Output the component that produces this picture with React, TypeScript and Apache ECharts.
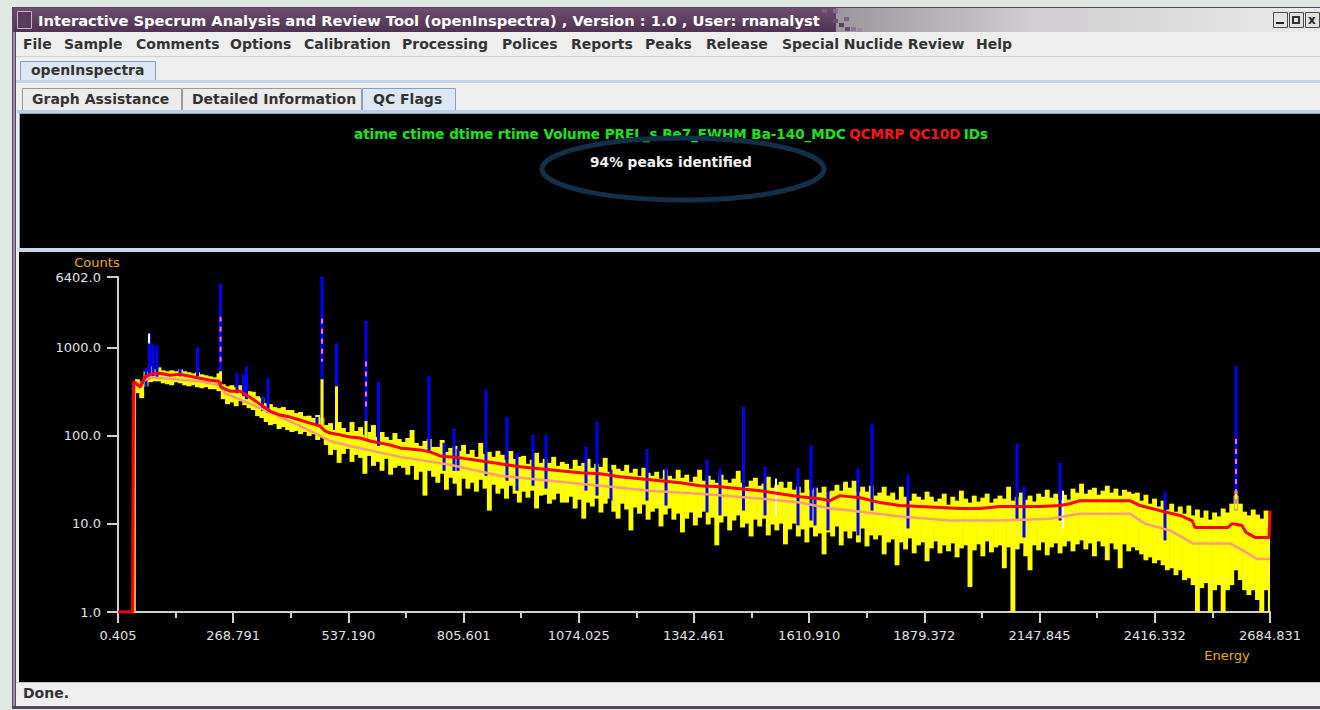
import React, { useEffect, useRef } from "react";
import * as echarts from "echarts";

const FONT = '"DejaVu Sans", "Noto Sans", sans-serif';

// Energy axis labels (keV), from the quadratic energy calibration
const energyTicks = [0.405, 268.791, 537.19, 805.601, 1074.025, 1342.461, 1610.91, 1879.372, 2147.845, 2416.332, 2684.831];
const countTicks = [1, 10, 100, 1000, 6402];

// Spectrum shown as 10 keV channel groups: max / min counts of each group
const groupStart = 40;
const groupWidth = 10;
const groupMax = [
  441, 387, 543, 618, 572, 602, 557, 543, 557, 543, 572, 543, 529, 515, 529, 502, 489, 476, 464, 515,
  387, 367, 377, 358, 377, 367, 323, 318, 283, 270, 236, 230, 213, 207, 213, 197, 197, 182, 187, 168, 170, 160, 173, 160,
  133, 140, 117, 144, 123, 111, 144, 114, 126, 103, 111, 133, 97.4, 111, 97.4, 90.1, 108, 92.5,
  85.5, 94.9, 117, 83.4, 77.1, 87.8, 92.5, 75.1, 75.1, 90.1, 66.0, 73.2, 77.1, 67.7, 79.1, 62.6, 69.5, 57.9, 83.4, 62.6,
  66.0, 57.9, 67.7, 61.0, 53.6, 67.7, 55.0, 57.9, 59.4, 48.3, 53.6, 64.3, 49.5, 55.0, 49.5, 57.9, 45.8, 50.8,
  48.3, 42.4, 53.6, 45.8, 49.5, 55.0, 43.5, 48.3, 44.6, 56.4, 39.2, 47.0, 42.4, 40.2, 47.0, 38.2, 42.4, 35.3, 43.5, 38.2,
  35.3, 39.2, 32.7, 41.3, 35.3, 32.7, 41.3, 33.5, 36.3, 30.2, 34.4, 41.3, 31.0, 35.3, 31.8, 29.4, 36.3, 31.8, 29.4, 32.7,
  40.2, 29.4, 26.5, 31.0, 33.5, 27.2, 28.7, 34.4, 25.8, 27.9, 30.2, 25.8, 30.2, 24.5, 26.5, 22.7, 31.8, 24.5, 25.8, 22.7,
  26.5, 23.3,
  23.9, 27.9, 23.9, 30.2, 25.8, 31.0, 23.3, 26.5, 23.3, 27.2, 21.0, 22.7, 26.5, 21.0, 22.7, 18.9, 26.5, 20.4, 18.4, 22.1,
  20.4, 18.9, 23.3, 20.4, 18.0, 19.4, 22.1, 16.6, 20.4, 18.4, 23.9, 19.4, 17.5, 21.0, 18.0, 19.9, 22.1, 17.5, 19.4, 21.0,
  19.4, 26.5, 18.4, 20.4, 22.7, 18.9, 21.0, 18.0, 22.1, 20.4, 24.5, 19.9, 22.1, 18.9, 21.5, 18.9, 25.2, 22.7, 28.7, 22.1,
  24.5, 25.8, 21.5, 23.9, 27.2, 22.7, 25.2, 21.0, 24.5, 23.3, 22.1,
  22.7, 18.4, 21.5, 17.0, 19.4, 15.8, 18.4, 14.6, 17.0, 13.8, 15.8, 13.1, 16.2, 12.5, 14.6, 11.8, 14.2, 11.2, 13.5, 12.2,
  15.0, 13.5, 17.0, 21.0, 17.0, 13.8, 12.5, 14.6, 12.8, 11.5, 14.2, 12.2,
];
const groupMin = [
  306, 269, 367, 408, 418, 418, 397, 387, 377, 408, 397, 377, 367, 377, 358, 349, 358, 340, 340, 323,
  262, 230, 241, 218, 249, 224, 207, 197, 168, 160, 144, 133, 137, 120, 126, 117, 111, 114, 105, 111, 100, 105, 90.1, 97.4,
  79.1, 61.0, 69.5, 49.5, 62.6, 71.3, 50.8, 61.0, 56.4, 37.2, 59.4, 45.8, 50.8, 40.2, 55.0, 36.3, 43.5, 45.8,
  43.5, 36.3, 45.8, 31.8, 39.2, 21.0, 40.2, 34.4, 29.4, 37.2, 24.5, 33.5, 28.7, 21.0, 32.7, 25.2, 29.4, 23.3, 31.8, 25.2,
  14.2, 27.9, 22.1, 25.2, 19.4, 27.2, 22.1, 17.5, 23.3, 19.9, 23.9, 15.0, 21.0, 21.5, 17.0, 18.9, 22.1, 17.5,
  17.5, 20.4, 15.0, 18.9, 11.5, 17.5, 15.8, 19.4, 13.5, 17.0, 19.4, 13.8, 11.5, 17.0, 14.6, 8.45, 15.4, 13.1, 16.6, 11.2,
  13.8, 15.0, 9.37, 12.8, 15.0, 11.2, 13.1, 8.02, 11.5, 13.5, 9.62, 11.8, 13.8, 9.87, 11.8, 5.72, 10.4, 12.2, 8.45, 10.95,
  12.5, 9.13, 10.1, 7.22, 11.2, 9.37, 11.5, 7.42, 9.87, 8.45, 10.1, 5.87, 8.67, 10.1, 7.22, 8.67, 6.18, 9.13, 7.22, 7.81,
  4.52, 8.02,
  7.22, 9.37, 5.72, 8.23, 6.86, 8.23, 6.18, 8.89, 5.57, 7.42, 6.68, 7.42, 4.52, 6.18, 6.68, 3.40, 6.18, 5.15, 6.86, 4.64,
  5.72, 6.18, 3.77, 5.29, 6.34, 4.64, 5.72, 4.89, 6.02, 4.18, 5.29, 5.72, 1.92, 5.02, 5.87, 4.29, 6.34, 4.76, 5.43, 5.72,
  3.14, 5.43, 1, 5.15, 6.02, 4.29, 2.98, 5.72, 5.02, 6.18, 4.41, 5.43, 6.02, 4.64, 5.57, 6.34, 4.89, 5.87, 6.51, 5.15,
  6.02, 4.29, 6.34, 5.57, 3.87, 6.02, 5.15, 3.14, 5.87, 4.89, 5.43,
  5.02, 4.52, 3.87, 4.18, 3.58, 3.87, 3.40, 2.98, 3.14, 2.62, 2.98, 2.30, 2.42, 2.02, 1, 1.87, 2.13, 1, 1.77, 2.02,
  1, 1.77, 2.02, 2.98, 2.30, 1.77, 1.56, 1.77, 1.37, 1, 1.77, 1,
];

// Spectrum below the low-energy threshold and its rising edge [energy, counts]
const thresholdEdge = [[0.405, 1], [39.5, 1], [39.5, 418]];

// Continuum baseline [energy, counts]
const baseline = [
  [0.405, 1], [30.7, 1], [34.5, 1], [36.5, 408], [40.0, 408], [51.7, 358], [63.3, 464], [75.0, 502], [98.3, 515],
  [121.6, 489], [144.9, 502], [168.2, 476], [191.5, 452], [214.8, 429], [235.8, 418], [240.4, 358], [261.4, 323],
  [284.7, 323], [308.0, 276], [331.3, 230], [354.6, 192], [377.9, 173], [401.2, 164], [424.5, 152], [447.8, 140],
  [471.1, 130], [482.8, 114], [494.4, 108], [517.7, 103], [541.0, 97.4], [564.3, 94.9], [587.6, 87.8], [610.9, 83.4],
  [634.2, 79.1], [657.5, 73.2], [704.1, 69.5], [727.4, 66.0], [750.7, 59.4], [797.3, 56.4], [843.9, 52.2],
  [890.5, 48.3], [937.1, 44.6], [983.8, 42.4], [1030.4, 40.2], [1077.0, 38.2], [1123.6, 37.2], [1170.2, 34.4],
  [1216.8, 32.7], [1263.4, 31.0], [1310.0, 29.4], [1356.6, 27.2], [1403.2, 26.5], [1449.8, 25.2], [1496.4, 23.9],
  [1543.0, 22.1], [1589.6, 20.4], [1636.2, 19.4], [1659.5, 18.4], [1682.8, 21.0], [1729.4, 19.9], [1776.0, 17.5],
  [1822.6, 16.2], [1869.2, 15.8], [1915.8, 15.4], [1962.4, 15.0], [2009.0, 15.0], [2055.7, 15.8], [2102.3, 15.8],
  [2148.9, 15.8], [2195.5, 16.2], [2218.8, 17.0], [2242.1, 18.4], [2288.7, 18.4], [2358.6, 18.4], [2381.9, 16.2],
  [2428.5, 14.2], [2475.1, 12.5], [2503.1, 10.95], [2510.1, 9.13], [2587.0, 9.13], [2596.3, 10.1], [2619.6, 9.62],
  [2628.9, 8.02], [2649.9, 7.04], [2682.6, 7.04], [2684.8, 14.2],
];

// Smoothed continuum [energy, counts]
const smoothed = [
  [36.5, 1], [39.5, 367], [75.0, 464], [191.5, 418], [238.1, 377], [249.7, 306], [331.3, 207], [424.5, 130],
  [494.4, 87.8], [541.0, 77.1], [657.5, 57.9], [774.0, 47.0], [890.5, 35.3], [1007.1, 31.0], [1123.6, 27.2],
  [1240.1, 23.9], [1356.6, 22.1], [1473.1, 19.9], [1589.6, 17.5], [1659.5, 15.0], [1706.1, 14.2], [1822.6, 12.2],
  [1939.1, 10.95], [2055.7, 10.95], [2172.2, 11.5], [2242.1, 13.1], [2358.6, 13.1], [2393.6, 10.1], [2451.8, 8.45],
  [2505.4, 6.02], [2591.6, 6.02], [2621.9, 5.02], [2654.5, 4.0], [2684.8, 4.0],
];

// Identified peak regions [energy, min counts, max counts]
const peakRegions = [
  [65.7, 367, 587], [73.8, 441, 1458], [82.0, 476, 1095], [91.3, 464, 1067], [144.9, 476, 587], [185.7, 476, 1013],
  [239.3, 418, 5356], [277.7, 306, 515], [292.8, 283, 502], [299.8, 262, 618], [337.1, 192, 283], [349.9, 182, 452],
  [464.1, 130, 164], [475.8, 130, 6402], [509.6, 94.9, 1124], [578.3, 94.9, 2045], [607.4, 77.1, 408],
  [725.1, 64.3, 476], [760.2, 40.2, 83.4], [783.3, 40.2, 120], [792.7, 40.2, 71.3], [857.9, 35.3, 331],
  [906.8, 31.0, 164], [930.1, 23.9, 64.3], [967.4, 27.2, 103], [997.7, 25.2, 103], [1090.9, 23.9, 75.1],
  [1116.6, 21.0, 144], [1149.2, 18.4, 41.3], [1233.1, 18.4, 71.3], [1277.4, 16.2, 43.5], [1372.9, 13.5, 53.6],
  [1403.2, 12.5, 42.4], [1458.0, 14.2, 213], [1508.1, 12.5, 44.6], [1585.0, 9.62, 43.5], [1615.3, 10.95, 77.1],
  [1624.6, 9.62, 26.5], [1654.9, 8.45, 23.9], [1724.8, 7.42, 42.4], [1757.4, 14.2, 137], [1841.3, 8.89, 36.3],
  [2095.3, 10.95, 81.2], [2111.6, 7.04, 26.5], [2195.5, 10.95, 49.5], [2440.1, 6.51, 23.3], [2605.6, 14.2, 618],
];

// Unflagged spectrum channels at the foot of the strongest peaks [energy, min, max]
const peakFeet = [[239.3, 418, 543], [475.8, 130, 441], [509.6, 94.9, 367], [578.3, 94.9, 148], [2605.6, 14.2, 23.9]];

// Fitted peak shapes [energy, from counts, to counts]
const fitMarks = [[239.3, 668, 2270], [475.8, 704, 2154], [578.3, 192, 704], [2605.6, 14.2, 92.5]];

// Cursor markers [energy, from counts, to counts]
const cursorMarks = [[72.6, 1124, 1458], [1533.7, 12.5, 32.7], [2202.5, 8.89, 23.9]];

const menuItems = ["File", "Sample", "Comments", "Options", "Calibration", "Processing", "Polices", "Reports", "Peaks", "Release", "Special Nuclide Review", "Help"];
const menuX = [23, 64, 136, 230, 304, 402, 502, 571, 645, 706, 782, 976];

const qcPassed = "atime ctime dtime rtime Volume PREL_s Be7_FWHM Ba-140_MDC";
const qcFailed = "QCMRP QC10D";
const qcTail = "IDs";
const peakSummary = "94% peaks identified";
const windowTitle = "Interactive Specrum Analysis and Review Tool (openInspectra) , Version : 1.0 , User: rnanalyst";

const rect = (x: number, y: number, w: number, h: number, style: any, z = -20) => ({
  type: "rect", shape: { x, y, width: w, height: h }, style, z, silent: true,
});
const label = (text: string, x: number, y: number, fill: string, font: string, align = "left", z = -5) => ({
  type: "text", z, silent: true,
  style: { text, x, y, fill, font, textAlign: align, textVerticalAlign: "middle" },
});

function buildChrome(): any[] {
  const bold14 = `bold 14px ${FONT}`;
  const els: any[] = [];
  // window frame
  els.push(rect(12, 7, 1308, 702, { fill: "#574660" }, -30));
  els.push(rect(13, 32, 2, 676, { fill: "#9c8ea6" }, -29));
  // title bar
  els.push(rect(14, 8, 822, 24, {
    fill: new echarts.graphic.LinearGradient(0, 0, 0, 1, [
      { offset: 0, color: "#6d4d70" }, { offset: 1, color: "#4f3352" },
    ]),
  }, -28));
  els.push(rect(836, 8, 484, 24, {
    fill: new echarts.graphic.LinearGradient(0, 0, 1, 0, [
      { offset: 0, color: "#9b969c" }, { offset: 0.4, color: "#cfcdcf" }, { offset: 1, color: "#ebebeb" },
    ]),
  }, -28));
  const mosaic = [[822, 9, "#7a5b7d"], [828, 13, "#65476a"], [833, 9, "#8a6d8c"], [833, 19, "#6e5072"],
    [839, 23, "#5b3f5e"], [844, 17, "#7c617f"], [845, 27, "#6a4d6d"], [851, 27, "#8a7690"], [857, 28, "#9a8aa0"]];
  mosaic.forEach(([x, y, c]) => els.push(rect(x as number, y as number, 5, 4, { fill: c as string }, -27)));
  els.push(rect(17.5, 11.5, 14, 17, { fill: "#5a3b5c", stroke: "#c3b3c6", lineWidth: 1 }, -26));
  els.push(label(windowTitle, 38, 20, "#ffffff", `bold 14.7px ${FONT}`));
  // window buttons
  [1273, 1289, 1305].forEach((x) => els.push(rect(x + 0.5, 12.5, 14, 15, { fill: "#e2e2e2", stroke: "#4a4a4a", lineWidth: 1 }, -26)));
  els.push(rect(1276, 22, 8, 2, { fill: "#222" }, -25));
  els.push(rect(1292, 16, 8, 8, { fill: "#333" }, -25));
  els.push(rect(1294, 18, 4, 4, { fill: "#e2e2e2" }, -24));
  els.push(label("x", 1308, 20, "#222", `bold 12px ${FONT}`));
  // content background
  els.push(rect(16, 32, 1304, 674, { fill: "#eeeeee" }, -27));
  els.push(rect(16, 56, 1304, 1, { fill: "#d2d2d2" }, -26));
  menuItems.forEach((m, i) => els.push(label(m, menuX[i], 44, "#333333", bold14)));
  // outer tab
  els.push(rect(20.5, 61.5, 135, 19, { fill: "#dde7f3", stroke: "#86a0c2", lineWidth: 1 }, -25));
  els.push(label("openInspectra", 31, 70, "#333333", bold14));
  els.push(rect(16, 80, 1304, 3, { fill: "#c2d3e7" }, -24));
  // inner tabs
  els.push(rect(22.5, 88.5, 159, 22, { fill: "#ececec", stroke: "#9a9a9a", lineWidth: 1 }, -25));
  els.push(rect(182.5, 88.5, 179, 22, { fill: "#ececec", stroke: "#9a9a9a", lineWidth: 1 }, -25));
  els.push(rect(362.5, 88.5, 93, 22, { fill: "#dde7f3", stroke: "#86a0c2", lineWidth: 1 }, -25));
  els.push(label("Graph Assistance", 32, 99, "#333333", bold14));
  els.push(label("Detailed Information", 192, 99, "#333333", bold14));
  els.push(label("QC Flags", 373, 99, "#333333", bold14));
  els.push(rect(17, 110, 1303, 3, { fill: "#bdcfe4" }, -24));
  // QC flags panel
  els.push(rect(19.5, 113.5, 1301, 135, { fill: "#000000", stroke: "#8ea6c6", lineWidth: 1 }, -23));
  els.push(rect(17, 248, 1303, 4, { fill: "#c9d6e6" }, -23));
  els.push({
    type: "text", z: 5, silent: true,
    style: {
      text: `{g|${qcPassed}} {r|${qcFailed}} {g|${qcTail}}`,
      x: 671, y: 134, textAlign: "center", textVerticalAlign: "middle",
      rich: {
        g: { fill: "#19e619", fontFamily: FONT, fontWeight: "bold", fontSize: 13.5 },
        r: { fill: "#ff1414", fontFamily: FONT, fontWeight: "bold", fontSize: 13.5 },
      },
    },
  });
  els.push({
    type: "ellipse", z: 6, silent: true,
    shape: { cx: 683, cy: 169, rx: 141, ry: 31 },
    style: { fill: "none", stroke: "#10304a", lineWidth: 5 },
  });
  els.push(label(peakSummary, 671, 162, "#f2f2f2", `bold 13.7px ${FONT}`, "center", 7));
  // spectrum panel
  els.push(rect(19, 252, 1301, 430, { fill: "#000000" }, -23));
  // status bar
  els.push(rect(16, 682, 1304, 1, { fill: "#b9c6d6" }, -22));
  els.push(label("Done.", 23, 693, "#333333", bold14));
  els.push(rect(12, 706, 1308, 3, { fill: "#574660" }, -22));
  // axis titles
  els.push(label("Counts", 97, 262, "#e8ad00", `13px ${FONT}`, "center", 5));
  els.push(label("Energy", 1227, 655, "#e8ad00", `13px ${FONT}`, "center", 5));
  return els;
}

const axisColor = "#cfcfcf";
const labelStyle = { color: "#e2e2e2", fontFamily: FONT, fontSize: 13 };

function columnRenderer(color: string, width: number) {
  return (_p: any, api: any) => {
    const lo = api.coord([api.value(0), api.value(1)]);
    const hi = api.coord([api.value(0), api.value(2)]);
    return {
      type: "rect",
      shape: { x: hi[0] - width / 2, y: hi[1], width, height: Math.max(1, lo[1] - hi[1]) },
      style: { fill: color },
    };
  };
}

export default function App() {
  const ref = useRef<HTMLDivElement>(null);
  useEffect(() => {
    if (!ref.current) return;
    const chart = echarts.init(ref.current, undefined, { renderer: "svg" });
    const eMin = energyTicks[0];
    const eMax = energyTicks[energyTicks.length - 1];
    const minorTicks = energyTicks.slice(1).map((v, i) => (v + energyTicks[i]) / 2);
    const groups = groupMax.map((hi, i) => [groupStart + i * groupWidth, groupMin[i], hi]);

    chart.setOption({
      animation: false,
      backgroundColor: "#dfe8e1",
      graphic: { elements: buildChrome() },
      grid: { left: 118, top: 277, width: 1152, height: 335, containLabel: false },
      xAxis: [
        {
          type: "value", min: eMin, max: eMax, position: "bottom",
          axisLine: { show: true, lineStyle: { color: axisColor, width: 2 } },
          axisTick: { show: true, customValues: energyTicks, length: 11, lineStyle: { color: axisColor, width: 2 } },
          axisLabel: { show: true, customValues: energyTicks, formatter: (v: number) => v.toFixed(3), margin: 17, ...labelStyle },
          splitLine: { show: false },
        },
        {
          type: "value", min: eMin, max: eMax, position: "bottom", gridIndex: 0,
          axisLine: { show: false },
          axisTick: { show: true, customValues: minorTicks, length: 6, lineStyle: { color: axisColor, width: 2 } },
          axisLabel: { show: false },
          splitLine: { show: false },
        },
      ],
      yAxis: {
        type: "log", logBase: 10, min: countTicks[0], max: countTicks[countTicks.length - 1],
        axisLine: { show: true, lineStyle: { color: axisColor, width: 2 } },
        axisTick: { show: true, customValues: countTicks, length: 11, lineStyle: { color: axisColor, width: 2 } },
        axisLabel: { show: true, customValues: countTicks, formatter: (v: number) => v.toFixed(1), margin: 17, ...labelStyle },
        splitLine: { show: false },
        minorTick: { show: false },
      },
      series: [
        {
          type: "custom", name: "Spectrum", clip: true, silent: true, z: 2,
          data: groups, encode: { x: 0, y: [1, 2] },
          renderItem: (_p: any, api: any) => {
            const e0 = api.value(0);
            const a = api.coord([e0, api.value(2)]);
            const b = api.coord([e0 + groupWidth, api.value(1)]);
            return {
              type: "rect",
              shape: { x: a[0], y: a[1], width: b[0] - a[0] + 0.6, height: Math.max(1, b[1] - a[1]) },
              style: { fill: "#ffff00" },
            };
          },
        },
        {
          type: "line", name: "Threshold", data: thresholdEdge, symbol: "none", clip: true, silent: true, z: 3,
          lineStyle: { color: "#ffff00", width: 2 },
        },
        {
          type: "custom", name: "Peaks", clip: true, silent: true, z: 4,
          data: peakRegions, encode: { x: 0, y: [1, 2] }, renderItem: columnRenderer("#0000ff", 3),
        },
        {
          type: "custom", name: "Peak feet", clip: true, silent: true, z: 5,
          data: peakFeet, encode: { x: 0, y: [1, 2] }, renderItem: columnRenderer("#ffff00", 3),
        },
        {
          type: "custom", name: "Fit", clip: true, silent: true, z: 6,
          data: fitMarks, encode: { x: 0, y: [1, 2] },
          renderItem: (_p: any, api: any) => {
            const lo = api.coord([api.value(0), api.value(1)]);
            const hi = api.coord([api.value(0), api.value(2)]);
            return {
              type: "line",
              shape: { x1: hi[0], y1: hi[1], x2: lo[0], y2: lo[1] },
              style: { stroke: "#ff66ff", lineWidth: 2, lineDash: [5, 5] },
            };
          },
        },
        {
          type: "custom", name: "Cursor", clip: true, silent: true, z: 6,
          data: cursorMarks, encode: { x: 0, y: [1, 2] }, renderItem: columnRenderer("#ffffff", 2),
        },
        {
          type: "line", name: "Smoothed", data: smoothed, symbol: "none", clip: true, silent: true, z: 7,
          lineStyle: { color: "#ff9c7c", width: 2.5 },
        },
        {
          type: "line", name: "Baseline", data: baseline, symbol: "none", clip: true, silent: true, z: 8,
          lineStyle: { color: "#ff0000", width: 3 },
        },
      ],
    });
    return () => chart.dispose();
  }, []);
  return <div ref={ref} style={{ position: "fixed", left: 0, top: 0, width: 1320, height: 710 }} />;
}
